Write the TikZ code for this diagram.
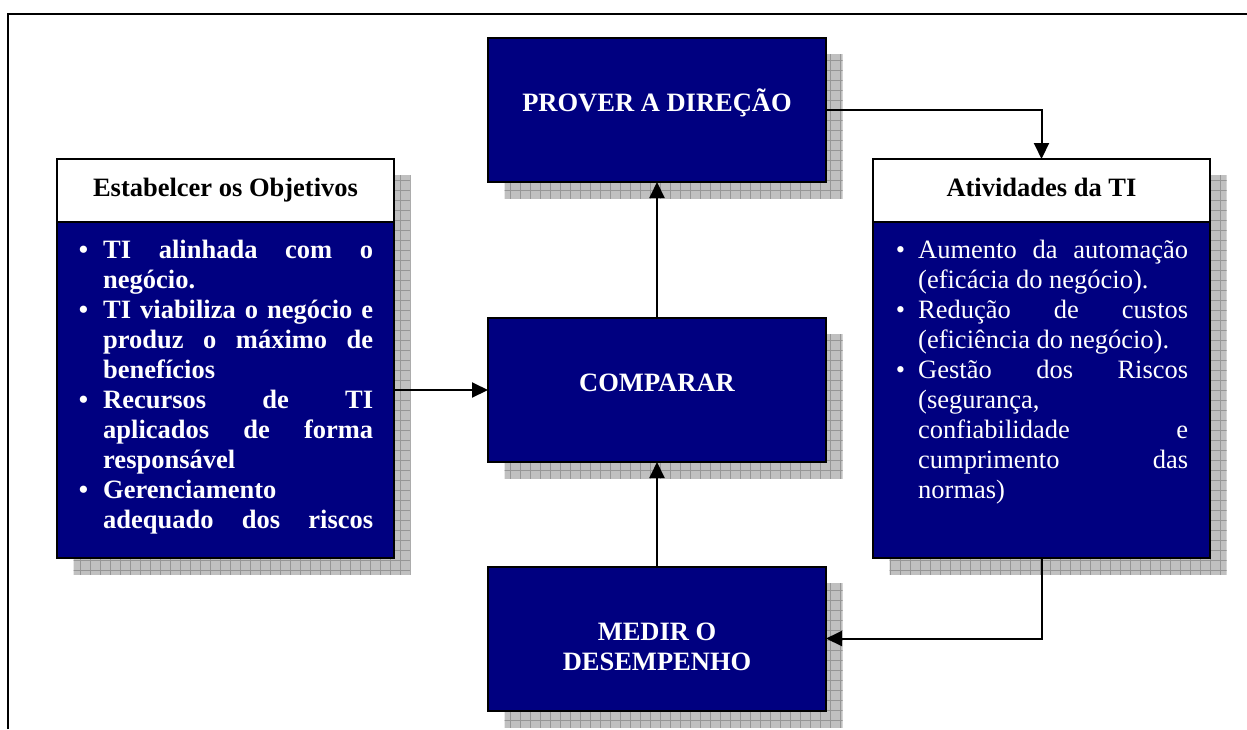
\documentclass[tikz,border=0pt]{standalone}
\usepackage{fontspec}
\setmainfont{Liberation Serif}
\usetikzlibrary{positioning, arrows.meta, calc, backgrounds}

\definecolor{boxnavy}{RGB}{0,0,128}
\definecolor{shadegray}{RGB}{192,192,192}
\definecolor{gridgray}{RGB}{150,150,150}
\setlength{\parindent}{0pt}

\newcommand{\jline}[1]{\makebox[270pt][s]{\spaceskip=0.25em plus 1fil\relax #1}}
\newcommand{\bul}[1]{\leavevmode\llap{\textbullet\hspace{#1}}}
\newcommand{\natspace}{\spaceskip=0pt\xspaceskip=0pt\relax}

\begin{document}
\begin{tikzpicture}[
    x=1pt, y=-1pt,
    >={Triangle[length=16pt, width=15pt]},
    bluebox/.style={
        draw=black, line width=2pt, fill=boxnavy, text=white,
        minimum width=338pt, minimum height=144pt,
        inner sep=0pt, outer sep=0pt, align=center,
        font=\bfseries\fontsize{26.5}{30}\selectfont
    },
    headbox/.style={
        draw=black, line width=2pt, fill=white,
        minimum width=337pt, minimum height=63pt,
        inner sep=0pt, outer sep=0pt, text depth=6pt,
        font=\bfseries\fontsize{26.5}{30}\selectfont
    },
    bodybox/.style={
        draw=black, line width=2pt, fill=boxnavy,
        minimum width=337pt, minimum height=336pt,
        inner sep=0pt, outer sep=0pt
    },
    listtext/.style={
        text=white, text width=270pt, align=left,
        inner sep=0pt, anchor=north west,
        font=\fontsize{26.5}{30}\selectfont
    },
    conn/.style={->, draw=black, line width=2pt}
]
    \useasboundingbox (0,0) rectangle (1247,729);

    % Frame
    \draw[line width=1.8pt] (8,729) -- (8,14) -- (1247,14);

    % Process boxes
    \node[bluebox] (prover) at (657,110) {PROVER A DIREÇÃO\rule[-19pt]{0pt}{1pt}};
    \node[bluebox] (comparar) at (657,390) {COMPARAR\rule[-14pt]{0pt}{14pt}};
    \node[bluebox] (medir) at (657,638.5) {\rule{0pt}{34.5pt}MEDIR O\\DESEMPENHO};

    % Side boxes
    \node[headbox] (objhead) at (225.5,190.5) {Estabelcer os Objetivos};
    \node[bodybox, below=0pt of objhead] (objbody) {};
    \node[headbox] (atvhead) at (1041.5,190.5) {Atividades da TI};
    \node[bodybox, below=0pt of atvhead] (atvbody) {};

    \node[listtext, font=\bfseries\fontsize{26.5}{30}\selectfont] (objlist)
        at ([xshift=46pt, yshift=-18pt]objbody.north west) {\natspace
        \bul{15pt}\jline{TI alinhada com o}\\
        negócio.\\
        \bul{15pt}\jline{TI viabiliza o negócio e}\\
        \jline{produz o máximo de}\\
        benefícios\\
        \bul{15pt}\jline{Recursos de TI}\\
        \jline{aplicados de forma}\\
        responsável\\
        \bul{15pt}Gerenciamento\\
        \jline{adequado dos riscos}};

    \node[listtext] (atvlist)
        at ([xshift=45pt, yshift=-18pt]atvbody.north west) {\natspace
        \bul{13pt}\jline{Aumento da automação}\\
        (eficácia do negócio).\\
        \bul{13pt}\jline{Redução de custos}\\
        (eficiência do negócio).\\
        \bul{13pt}\jline{Gestão dos Riscos}\\
        (segurança,\\
        \jline{confiabilidade e}\\
        \jline{cumprimento das}\\
        normas)};

    % Shadows
    \begin{scope}[on background layer]
        \foreach \a/\z in {prover/prover, comparar/comparar, medir/medir,
                           objhead/objbody, atvhead/atvbody} {
            \begin{scope}
                \clip ([shift={(16.5,16.5)}]\a.north west) rectangle ([shift={(16.5,16.5)}]\z.south east);
                \fill[shadegray] (0,0) rectangle (1247,729);
                \draw[gridgray, line width=1pt, step=10pt] (0,0) grid (1247,729);
            \end{scope}
        }
    \end{scope}

    % Connections
    \draw[conn] (prover.east) -| (atvhead.north);
    \draw[conn] (comparar.north) -- (prover.south);
    \draw[conn] (objbody.east |- comparar.west) -- (comparar.west);
    \draw[conn] (medir.north) -- (comparar.south);
    \draw[conn] (atvbody.south) |- (medir.east);

\end{tikzpicture}
\end{document}
